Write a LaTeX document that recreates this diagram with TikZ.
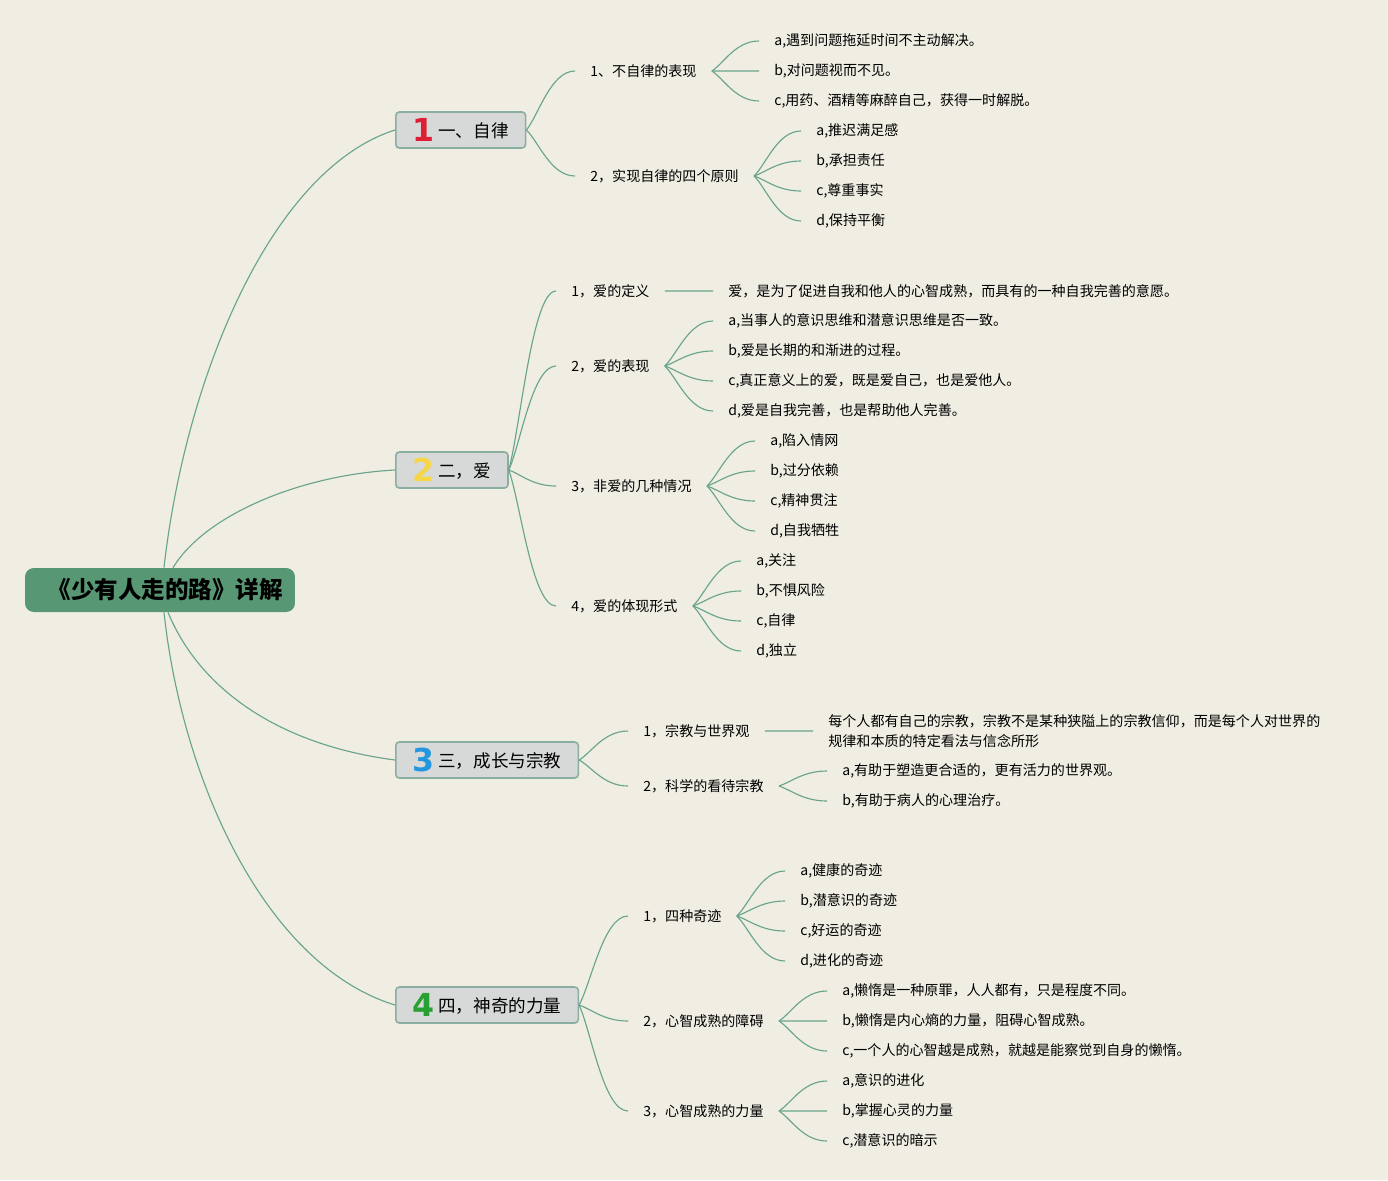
\documentclass[tikz,border=0pt]{standalone}
\usepackage{fontspec}
\setmainfont{Noto Sans CJK SC}
\newfontfamily\numfont{DejaVu Sans}
\usepackage{tikz}
\usetikzlibrary{calc}
\usetikzlibrary{positioning}

\definecolor{paper}{RGB}{240,237,227}
\definecolor{rootfill}{RGB}{88,151,116}
\definecolor{boxfill}{RGB}{215,216,216}
\definecolor{boxline}{RGB}{138,174,160}
\definecolor{linkc}{RGB}{105,165,140}
\definecolor{numred}{RGB}{222,30,52}
\definecolor{numyellow}{RGB}{246,214,70}
\definecolor{numblue}{RGB}{34,150,222}
\definecolor{numgreen}{RGB}{40,160,52}

\newcommand{\bignum}[2]{\raisebox{-2.5pt}{\numfont\fontsize{18}{18}\selectfont\bfseries\color{#1}#2}\hspace{2pt}}

\tikzset{
  root/.style={fill=rootfill, rounded corners=5pt, minimum width=5.4cm,
               minimum height=0.88cm, font=\fontsize{13.4}{16}\selectfont\bfseries},
  topic/.style={anchor=west, draw=boxline, fill=boxfill, rounded corners=2pt,
                line width=0.9pt, minimum height=0.72cm, inner xsep=0.34cm,
                font=\fontsize{10}{12}\selectfont},
  leaf/.style={anchor=west, inner xsep=0.3cm, inner ysep=0pt,
               font=\fontsize{8}{11.4}\selectfont},
  link/.style={draw=linkc, line width=0.65pt},
  curv/.style={to path={.. controls ($(\tikztostart)!0.25!(\tikztotarget)$)
               and ($(\tikztotarget)!0.5!(\tikztostart|-\tikztotarget)$) .. (\tikztotarget)}}
}

\begin{document}
\begin{tikzpicture}[x=0.02cm, y=-0.02cm]
  \fill[paper] (0,0) rectangle (1388,1180);

  \node[root] (root) at (160,590) {\hspace{6pt}《少有人走的路》详解};

  \node[topic] (t1) at (395,130) {\bignum{numred}{1}一、自律};
  \node[topic] (t2) at (395,470) {\bignum{numyellow}{2}二，爱};
  \node[topic] (t3) at (395,760) {\bignum{numblue}{3}三，成长与宗教};
  \node[topic] (t4) at (395,1005) {\bignum{numgreen}{4}四，神奇的力量};

  \draw[link] ($(root.north)+(4,0)$) .. controls (185,380) and (270,170) .. (t1.west);
  \draw[link] ($(root.north)+(13,0)$) .. controls (205,515) and (300,475) .. (t2.west);
  \draw[link] ($(root.south)+(8,0)$) .. controls (200,690) and (280,745) .. (t3.west);
  \draw[link] ($(root.south)+(4,0)$) .. controls (182,780) and (265,965) .. (t4.west);

  % 一、自律
  \node[leaf] (s11) at (575,71) {1、不自律的表现};
  \node[leaf] (s12) at (575,176) {2，实现自律的四个原则};
  \node[leaf] (s11a) at (759,41) {a,遇到问题拖延时间不主动解决。};
  \node[leaf] (s11b) at (759,71) {b,对问题视而不见。};
  \node[leaf] (s11c) at (759,101) {c,用药、酒精等麻醉自己，获得一时解脱。};
  \node[leaf] (s12a) at (801,131) {a,推迟满足感};
  \node[leaf] (s12b) at (801,161) {b,承担责任};
  \node[leaf] (s12c) at (801,191) {c,尊重事实};
  \node[leaf] (s12d) at (801,221) {d,保持平衡};

  % 二，爱
  \node[leaf] (s21) at (556,291) {1，爱的定义};
  \node[leaf] (d21) at (713,291) {爱，是为了促进自我和他人的心智成熟，而具有的一种自我完善的意愿。};
  \node[leaf] (s22) at (556,366) {2，爱的表现};
  \node[leaf] (s22a) at (713,321) {a,当事人的意识思维和潜意识思维是否一致。};
  \node[leaf] (s22b) at (713,351) {b,爱是长期的和渐进的过程。};
  \node[leaf] (s22c) at (713,381) {c,真正意义上的爱，既是爱自己，也是爱他人。};
  \node[leaf] (s22d) at (713,411) {d,爱是自我完善，也是帮助他人完善。};
  \node[leaf] (s23) at (556,486) {3，非爱的几种情况};
  \node[leaf] (s23a) at (755,441) {a,陷入情网};
  \node[leaf] (s23b) at (755,471) {b,过分依赖};
  \node[leaf] (s23c) at (755,501) {c,精神贯注};
  \node[leaf] (s23d) at (755,531) {d,自我牺牲};
  \node[leaf] (s24) at (556,606) {4，爱的体现形式};
  \node[leaf] (s24a) at (741,561) {a,关注};
  \node[leaf] (s24b) at (741,591) {b,不惧风险};
  \node[leaf] (s24c) at (741,621) {c,自律};
  \node[leaf] (s24d) at (741,651) {d,独立};

  % 三，成长与宗教
  \node[leaf] (s31) at (628,731) {1，宗教与世界观};
  \node[leaf, align=left] (d31) at (813,731) {每个人都有自己的宗教，宗教不是某种狭隘上的宗教信仰，而是每个人对世界的\\规律和本质的特定看法与信念所形};
  \node[leaf] (s32) at (628,786) {2，科学的看待宗教};
  \node[leaf] (s32a) at (827,771) {a,有助于塑造更合适的，更有活力的世界观。};
  \node[leaf] (s32b) at (827,801) {b,有助于病人的心理治疗。};

  % 四，神奇的力量
  \node[leaf] (s41) at (628,916) {1，四种奇迹};
  \node[leaf] (s41a) at (785,871) {a,健康的奇迹};
  \node[leaf] (s41b) at (785,901) {b,潜意识的奇迹};
  \node[leaf] (s41c) at (785,931) {c,好运的奇迹};
  \node[leaf] (s41d) at (785,961) {d,进化的奇迹};
  \node[leaf] (s42) at (628,1021) {2，心智成熟的障碍};
  \node[leaf] (s42a) at (827,991) {a,懒惰是一种原罪，人人都有，只是程度不同。};
  \node[leaf] (s42b) at (827,1021) {b,懒惰是内心熵的力量，阻碍心智成熟。};
  \node[leaf] (s42c) at (827,1051) {c,一个人的心智越是成熟，就越是能察觉到自身的懒惰。};
  \node[leaf] (s43) at (628,1111) {3，心智成熟的力量};
  \node[leaf] (s43a) at (827,1081) {a,意识的进化};
  \node[leaf] (s43b) at (827,1111) {b,掌握心灵的力量};
  \node[leaf] (s43c) at (827,1141) {c,潜意识的暗示};

  \foreach \a/\b in {t1/s11, t1/s12, s11/s11a, s11/s11b, s11/s11c,
                     s12/s12a, s12/s12b, s12/s12c, s12/s12d,
                     t2/s21, t2/s22, t2/s23, t2/s24, s21/d21,
                     s22/s22a, s22/s22b, s22/s22c, s22/s22d,
                     s23/s23a, s23/s23b, s23/s23c, s23/s23d,
                     s24/s24a, s24/s24b, s24/s24c, s24/s24d,
                     t3/s31, t3/s32, s31/d31, s32/s32a, s32/s32b,
                     t4/s41, t4/s42, t4/s43,
                     s41/s41a, s41/s41b, s41/s41c, s41/s41d,
                     s42/s42a, s42/s42b, s42/s42c,
                     s43/s43a, s43/s43b, s43/s43c}
    \draw[link] (\a.east) to[curv] (\b.west);
\end{tikzpicture}
\end{document}
